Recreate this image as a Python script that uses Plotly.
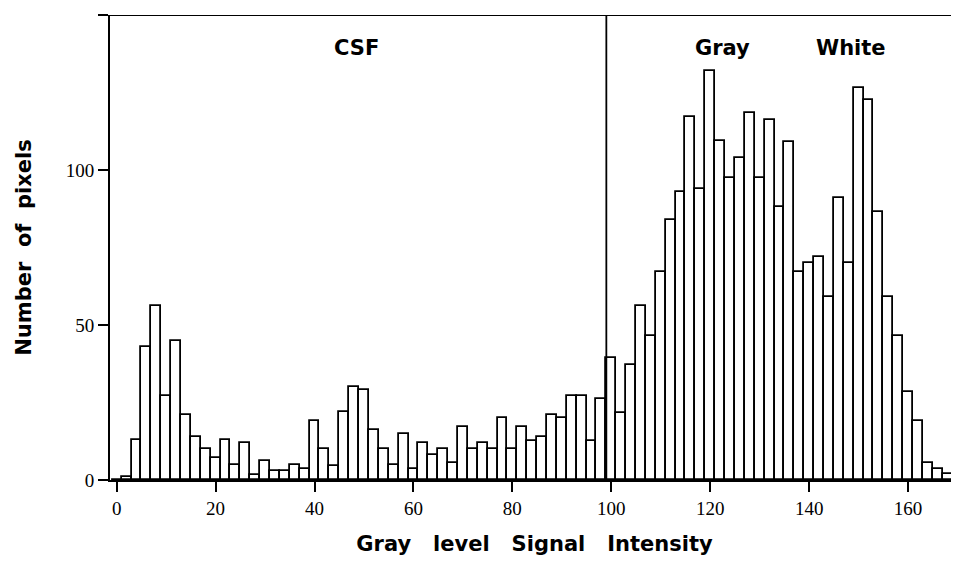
import plotly.graph_objects as go

bin_centers = list(range(0, 170, 2))
pixel_counts = [
    0, 1, 13, 43, 56, 27, 45, 21, 14, 10,
    7, 13, 5, 12, 1.5, 6, 3, 3, 5, 3.5,
    19, 10, 4.5, 22, 30, 29, 16, 10, 5, 15,
    3.5, 12, 8, 10, 5.5, 17, 10, 12, 10, 20,
    10, 17, 12.5, 14, 21, 20, 27, 27, 12.5, 26,
    39.5, 21.5, 37, 56, 46.5, 67, 84, 93, 117, 94,
    132, 109.5, 97.5, 104, 118.5, 97.5, 116, 88, 109, 67,
    70, 72, 59, 91, 70, 126.5, 122.5, 86.5, 59, 46.5,
    28.5, 19, 5.5, 3.5, 2,
]
x_ticks = [0, 20, 40, 60, 80, 100, 120, 140, 160]
y_ticks = [0, 50, 100, 150]
region_labels = ["CSF", "Gray", "White"]
region_label_x = [48.5, 122.5, 148.5]
region_label_y = 139.5
divider_x = 99

BOLD = "DejaVu Sans, Arial"
SERIF = "Liberation Serif, Times New Roman"

fig = go.Figure()
fig.add_trace(go.Bar(
    x=bin_centers, y=pixel_counts, width=2,
    marker=dict(color="white", line=dict(color="black", width=1.8)),
    showlegend=False,
))

for lab, lx in zip(region_labels, region_label_x):
    fig.add_annotation(x=lx, y=region_label_y, text=lab, showarrow=False,
                       font=dict(family=BOLD, size=21, color="black", weight="bold"))

fig.add_shape(type="line", x0=divider_x, x1=divider_x, y0=0, y1=150,
              line=dict(color="black", width=1.8))
fig.add_shape(type="line", xref="paper", x0=0, x1=1, y0=150, y1=150,
              line=dict(color="black", width=1.8))

fig.update_layout(
    width=951, height=548,
    margin=dict(l=102, r=0, t=7, b=76),
    plot_bgcolor="white", paper_bgcolor="white",
    bargap=0,
    xaxis=dict(
        range=[-1.35, 170.3], tickvals=x_ticks, ticktext=[str(v) for v in x_ticks],
        showgrid=False, zeroline=False, showline=True, linecolor="black", linewidth=1.8,
        ticks="outside", ticklen=10, tickwidth=1.5, tickcolor="black", automargin=False,
        tickfont=dict(family=SERIF, size=19, color="black"),
        title=dict(text="Gray\u00a0\u00a0\u00a0level\u00a0\u00a0\u00a0Signal\u00a0\u00a0\u00a0Intensity",
                   font=dict(family=BOLD, size=21, color="black", weight="bold"),
                   standoff=30),
    ),
    yaxis=dict(
        range=[0, 150], tickvals=y_ticks, ticktext=[str(v) for v in y_ticks],
        showgrid=False, zeroline=False, showline=True, linecolor="black", linewidth=1.8,
        ticks="outside", ticklen=10, tickwidth=1.5, tickcolor="black", automargin=False,
        tickfont=dict(family=SERIF, size=19, color="black"),
        title=dict(text="Number\u00a0\u00a0of\u00a0\u00a0pixels",
                   font=dict(family=BOLD, size=21, color="black", weight="bold"),
                   standoff=28),
    ),
)

fig.write_html("out.html")
